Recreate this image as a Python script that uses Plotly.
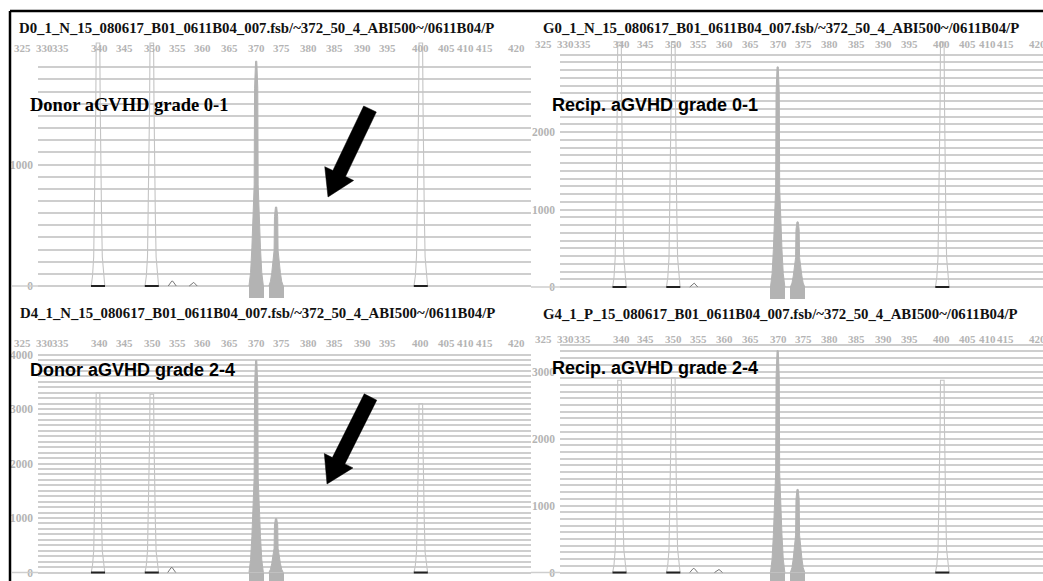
import plotly.graph_objects as go

W, H = 1043, 581

# ---------------------------------------------------------------- data
# printed size labels and where each one sits on the run axis (bp-equivalent)
size_labels = [325, 330, 335, 340, 345, 350, 355, 360, 365, 370,
               375, 380, 385, 390, 395, 400, 405, 410, 415, 420]
size_label_pos = [325.9, 330.0, 333.1, 340.3, 344.9, 350.1, 354.7, 359.5, 364.4, 369.5,
                  374.2, 379.1, 384.0, 389.1, 393.9, 399.9, 404.7, 408.4, 411.8, 417.7]

# size-standard peaks (outlined) and sample peaks (filled), bp
std_pos = [340.0, 350.0, 400.0]
sample_pos = [369.4, 373.1]

run_titles = [
    "D0_1_N_15_080617_B01_0611B04_007.fsb/~372_50_4_ABI500~/0611B04/P",
    "G0_1_N_15_080617_B01_0611B04_007.fsb/~372_50_4_ABI500~/0611B04/P",
    "D4_1_N_15_080617_B01_0611B04_007.fsb/~372_50_4_ABI500~/0611B04/P",
    "G4_1_P_15_080617_B01_0611B04_007.fsb/~372_50_4_ABI500~/0611B04/P",
]
group_labels = ["Donor aGVHD grade 0-1", "Recip. aGVHD grade 0-1",
                "Donor aGVHD grade 2-4", "Recip. aGVHD grade 2-4"]

# peak heights (RFU)
std_h_d0 = [2000, 2000, 2000]
sample_h_d0 = [1850, 650]
std_h_g0 = [3160, 3160, 3160]
sample_h_g0 = [2840, 840]
std_h_d4 = [3300, 3270, 3100]
sample_h_d4 = [3890, 990]
std_h_g4 = [2870, 2910, 2870]
sample_h_g4 = [3310, 1240]

# small baseline noise peaks
noise_pos_d0 = [353.8, 357.7]
noise_h_d0 = [40, 30]
noise_pos_g0 = [353.8]
noise_h_g0 = [50]
noise_pos_d4 = [353.7]
noise_h_d4 = [90]
noise_pos_g4 = [353.8, 358.4]
noise_h_g4 = [60, 45]

# top gridline and highest labelled value of each y axis (RFU)
grid_top = [1800, 3000, 4000, 3400]
label_top = [1000, 2000, 4000, 3000]

# ---------------------------------------------------------------- styling
PX_PER_BP = 5.38
GRID = "#cecece"
TICK_GREY = "#b4b4b4"
FILL_GREY = "#b3b3b3"
STD_LINE = "#c4c4c4"
SERIF = "Liberation Serif, Times New Roman, serif"
SANS = "Liberation Sans, Arial, sans-serif"

# peak outline profiles: (fraction of height, half width in px)
STD_PROFILE = [(0, 6.8), (0.04, 5.5), (0.12, 4.3), (0.3, 3.5), (0.5, 2.7), (0.75, 2.2), (1.0, 1.8)]
SAMPLE_PROFILE = [(0, 7.2), (0.06, 5.6), (0.17, 4.3), (0.31, 2.8), (0.45, 2.0), (0.88, 1.6), (1.0, 0.6)]
NOISE_PROFILE = [(0, 4.0), (1.0, 0.5)]

# panel frames in pixels
panels = [
    dict(x0=38, x1=531, ytop=34, ybase=286, ybot=299, k=0.1215, px340=98,
         title_x=17, title_y=28, tick_y=48, lab_x=28, lab_y=105, lab_font=SERIF, lab_size=18.5,
         std=std_h_d0, sample=sample_h_d0, npos=noise_pos_d0, nh=noise_h_d0, base_from=12),
    dict(x0=560, x1=1043, ytop=34, ybase=287, ybot=299, k=0.0775, px340=619.5,
         title_x=541, title_y=28, tick_y=44, lab_x=550, lab_y=105, lab_font=SANS, lab_size=18,
         std=std_h_g0, sample=sample_h_g0, npos=noise_pos_g0, nh=noise_h_g0, base_from=531),
    dict(x0=38, x1=531, ytop=333, ybase=572.5, ybot=581, k=0.0545, px340=98,
         title_x=18, title_y=313, tick_y=343, lab_x=28, lab_y=370, lab_font=SANS, lab_size=18,
         std=std_h_d4, sample=sample_h_d4, npos=noise_pos_d4, nh=noise_h_d4, base_from=12),
    dict(x0=560, x1=1043, ytop=333, ybase=572.5, ybot=581, k=0.067, px340=619.5,
         title_x=541, title_y=314, tick_y=339, lab_x=550, lab_y=368, lab_font=SANS, lab_size=18,
         std=std_h_g4, sample=sample_h_g4, npos=noise_pos_g4, nh=noise_h_g4, base_from=531),
]


def peak_outline(centers, heights, profile):
    xs, ys = [], []
    for c, h in zip(centers, heights):
        left = [(c - hw / PX_PER_BP, f * h) for f, hw in profile]
        right = [(c + hw / PX_PER_BP, f * h) for f, hw in reversed(profile)]
        for x, y in left + right:
            xs.append(x)
            ys.append(y)
        xs.append(None)
        ys.append(None)
    return xs, ys


fig = go.Figure()
layout = dict(width=W, height=H, margin=dict(l=0, r=0, t=0, b=0),
              paper_bgcolor="white", plot_bgcolor="white", showlegend=False,
              bargap=0, annotations=[], shapes=[])


def bp_to_paper(p, bp):
    return (p["px340"] + (bp - 340) * PX_PER_BP) / W


for i, p in enumerate(panels):
    n = "" if i == 0 else str(i + 1)
    xa, ya = "x" + n, "y" + n
    y_hi = (p["ybase"] - p["ytop"]) / p["k"]
    y_lo = -(p["ybot"] - p["ybase"]) / p["k"]
    x_lo = 340 + (p["x0"] - p["px340"]) / PX_PER_BP
    x_hi = 340 + (p["x1"] - p["px340"]) / PX_PER_BP

    tickvals = list(range(0, grid_top[i] + 1, 100))
    ticktext = [str(v) if (v % 1000 == 0 and v <= label_top[i]) else "" for v in tickvals]

    layout["xaxis" + n] = dict(domain=[p["x0"] / W, p["x1"] / W], range=[x_lo, x_hi],
                               anchor=ya, showgrid=False, zeroline=False, showline=False,
                               showticklabels=False, ticks="", fixedrange=True)
    layout["yaxis" + n] = dict(domain=[1 - p["ybot"] / H, 1 - p["ytop"] / H], range=[y_lo, y_hi],
                               anchor=xa, tickmode="array", tickvals=tickvals, ticktext=ticktext,
                               showgrid=True, gridcolor=GRID, gridwidth=1.5, zeroline=False,
                               showline=False, ticks="", ticklabelstandoff=4,
                               tickfont=dict(family=SERIF, size=11.5, color=TICK_GREY, weight="bold"),
                               fixedrange=True)

    # bin blocks under the sample peaks
    depth = 12 / p["k"]
    fig.add_trace(go.Bar(x=sample_pos, y=[-depth] * len(sample_pos), width=15 / PX_PER_BP,
                         marker=dict(color=FILL_GREY, line=dict(width=0)),
                         xaxis=xa, yaxis=ya, hoverinfo="skip"))

    # filled sample peaks
    sx, sy = peak_outline(sample_pos, p["sample"], SAMPLE_PROFILE)
    fig.add_trace(go.Scatter(x=sx, y=sy, mode="lines", fill="toself", fillcolor=FILL_GREY,
                             line=dict(color=FILL_GREY, width=1), xaxis=xa, yaxis=ya,
                             hoverinfo="skip"))

    # outlined size-standard peaks
    tx, ty = peak_outline(std_pos, p["std"], STD_PROFILE)
    fig.add_trace(go.Scatter(x=tx, y=ty, mode="lines", line=dict(color=STD_LINE, width=1.1),
                             xaxis=xa, yaxis=ya, hoverinfo="skip"))

    # small noise peaks
    nx, ny = peak_outline(p["npos"], p["nh"], NOISE_PROFILE)
    fig.add_trace(go.Scatter(x=nx, y=ny, mode="lines", line=dict(color="#777777", width=1),
                             xaxis=xa, yaxis=ya, hoverinfo="skip"))

    # called-peak markers on the baseline
    fig.add_trace(go.Scatter(x=std_pos, y=[0] * len(std_pos), mode="markers",
                             marker=dict(symbol="line-ew", size=10,
                                         line=dict(color="#222222", width=2)),
                             xaxis=xa, yaxis=ya, hoverinfo="skip", cliponaxis=False))

    # baseline continuing into the label margin
    layout["shapes"].append(dict(type="line", xref="paper", yref=ya,
                                 x0=p["base_from"] / W, x1=p["x0"] / W, y0=0, y1=0,
                                 line=dict(color=GRID, width=1.5)))

    # run title
    layout["annotations"].append(dict(text=run_titles[i], xref="paper", yref="paper",
                                      x=p["title_x"] / W, y=1 - p["title_y"] / H,
                                      xanchor="left", yanchor="middle", showarrow=False,
                                      font=dict(family=SERIF, size=14.8, color="#111111", weight="bold")))
    # size labels
    for lab, pos in zip(size_labels, size_label_pos):
        layout["annotations"].append(dict(text=str(lab), xref="paper", yref="paper",
                                          x=bp_to_paper(p, pos), y=1 - p["tick_y"] / H,
                                          xanchor="center", yanchor="middle", showarrow=False,
                                          font=dict(family=SERIF, size=11, color=TICK_GREY,
                                                    weight="bold")))
    # group label
    layout["annotations"].append(dict(text="<b>%s</b>" % group_labels[i], xref="paper", yref="paper",
                                      x=p["lab_x"] / W, y=1 - p["lab_y"] / H,
                                      xanchor="left", yanchor="middle", showarrow=False,
                                      font=dict(family=p["lab_font"], size=p["lab_size"], color="black")))


# pointer arrows in the donor panels (pixel geometry)
def arrow_path(tail, tip, shaft_w=14, head_hw=16, head_len=26):
    tx, ty = tail
    px, py = tip
    dx, dy = px - tx, py - ty
    ln = (dx ** 2 + dy ** 2) ** 0.5
    ux, uy = dx / ln, dy / ln
    nx, ny = uy, -ux
    bx, by = px - ux * head_len, py - uy * head_len
    pts = [(tx + nx * shaft_w / 2, ty + ny * shaft_w / 2),
           (bx + nx * shaft_w / 2, by + ny * shaft_w / 2),
           (bx + nx * head_hw, by + ny * head_hw),
           (px, py),
           (bx - nx * head_hw, by - ny * head_hw),
           (bx - nx * shaft_w / 2, by - ny * shaft_w / 2),
           (tx - nx * shaft_w / 2, ty - ny * shaft_w / 2)]
    return "M " + " L ".join("%.5f,%.5f" % (x / W, 1 - y / H) for x, y in pts) + " Z"


for tail, tip in [((370, 109), (328, 197)), ((370.5, 397), (327, 484))]:
    layout["shapes"].append(dict(type="path", xref="paper", yref="paper",
                                 path=arrow_path(tail, tip), fillcolor="black",
                                 line=dict(color="black", width=0.5), layer="above"))

# outer frame (top and left edges)
layout["shapes"].append(dict(type="line", xref="paper", yref="paper",
                             x0=10 / W, x1=1, y0=1 - 11 / H, y1=1 - 11 / H,
                             line=dict(color="black", width=2.5)))
layout["shapes"].append(dict(type="line", xref="paper", yref="paper",
                             x0=10 / W, x1=10 / W, y0=1 - 11 / H, y1=0,
                             line=dict(color="black", width=2.5)))

fig.update_layout(**layout)
fig.write_html("out.html")
